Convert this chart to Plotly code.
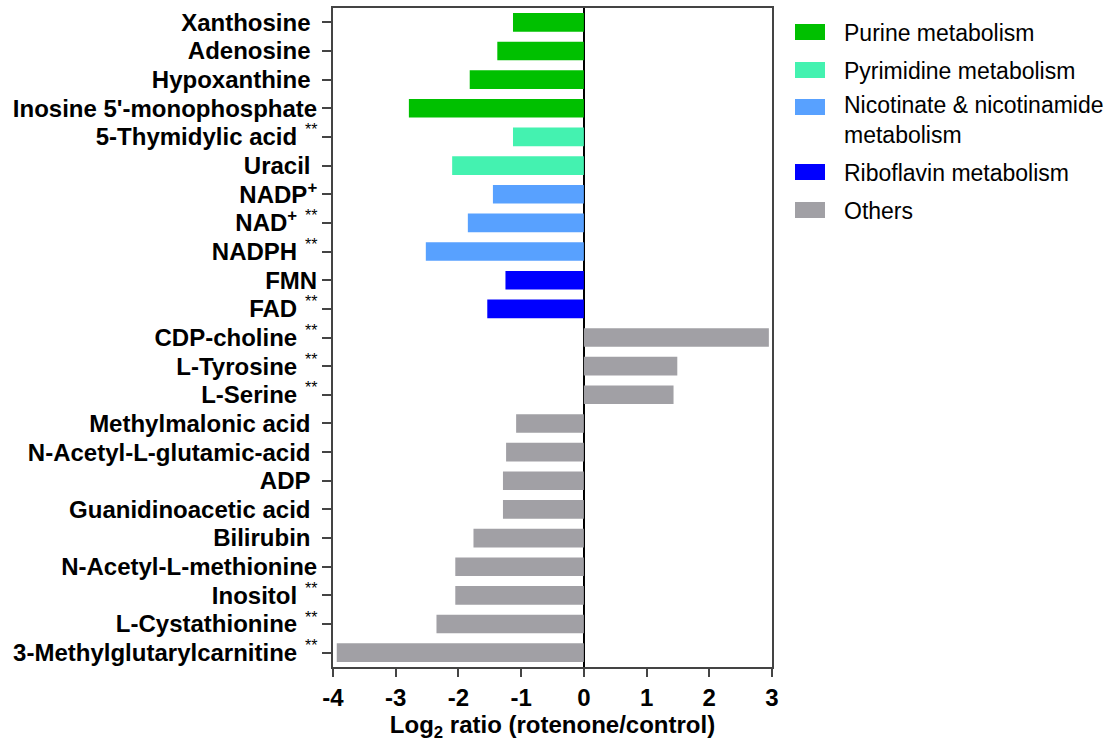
import plotly.graph_objects as go

# ---- data ----
metabolites = [
    "Xanthosine", "Adenosine", "Hypoxanthine", "Inosine 5'-monophosphate",
    "5-Thymidylic acid", "Uracil", "NADP+", "NAD+", "NADPH", "FMN", "FAD",
    "CDP-choline", "L-Tyrosine", "L-Serine", "Methylmalonic acid",
    "N-Acetyl-L-glutamic-acid", "ADP", "Guanidinoacetic acid", "Bilirubin",
    "N-Acetyl-L-methionine", "Inositol", "L-Cystathionine",
    "3-Methylglutarylcarnitine",
]
log2_ratio = [
    -1.13, -1.38, -1.82, -2.79,
    -1.13, -2.10, -1.45, -1.85, -2.52, -1.25, -1.54,
    2.95, 1.49, 1.43, -1.08,
    -1.24, -1.29, -1.29, -1.76,
    -2.05, -2.05, -2.35,
    -3.94,
]
pathway = [
    "Purine metabolism", "Purine metabolism", "Purine metabolism", "Purine metabolism",
    "Pyrimidine metabolism", "Pyrimidine metabolism",
    "Nicotinate & nicotinamide metabolism", "Nicotinate & nicotinamide metabolism",
    "Nicotinate & nicotinamide metabolism",
    "Riboflavin metabolism", "Riboflavin metabolism",
    "Others", "Others", "Others", "Others", "Others", "Others", "Others", "Others",
    "Others", "Others", "Others", "Others",
]
significant = [
    False, False, False, False,
    True, False, False, True, True, False, True,
    True, True, True, False,
    False, False, False, False,
    False, True, True,
    True,
]
label_html = [
    "Xanthosine", "Adenosine", "Hypoxanthine", "Inosine 5'-monophosphate",
    "5-Thymidylic acid", "Uracil", "NADP<sup>+</sup>", "NAD<sup>+</sup>", "NADPH",
    "FMN", "FAD", "CDP-choline", "L-Tyrosine", "L-Serine", "Methylmalonic acid",
    "N-Acetyl-L-glutamic-acid", "ADP", "Guanidinoacetic acid", "Bilirubin",
    "N-Acetyl-L-methionine", "Inositol", "L-Cystathionine",
    "3-Methylglutarylcarnitine",
]
# trailing spaces after label (as in the original figure)
label_pad = [1, 1, 1, 0, 3, 1, 0, 3, 3, 0, 3, 3, 3, 3, 1, 1, 1, 1, 1, 0, 3, 3, 3]
legend_names = [
    "Purine metabolism", "Pyrimidine metabolism",
    "Nicotinate & nicotinamide metabolism", "Riboflavin metabolism", "Others",
]
legend_text = [
    "Purine metabolism", "Pyrimidine metabolism",
    "Nicotinate & nicotinamide<br>metabolism", "Riboflavin metabolism", "Others",
]
x_ticks = [-4, -3, -2, -1, 0, 1, 2, 3]

# ---- styles ----
colors = {
    "Purine metabolism": "#00C000",
    "Pyrimidine metabolism": "#44F2B0",
    "Nicotinate & nicotinamide metabolism": "#58A1FF",
    "Riboflavin metabolism": "#0000FF",
    "Others": "#A1A0A5",
}
FONT = "Liberation Sans, Arial, sans-serif"

W, H = 1114, 742
ML, MR, MT, MB = 333, W - 772, 8, H - 667

fig = go.Figure()
for name in legend_names:
    ys = [m for m, p in zip(metabolites, pathway) if p == name]
    xs = [v for v, p in zip(log2_ratio, pathway) if p == name]
    fig.add_trace(go.Bar(
        x=xs, y=ys, orientation="h", name=name,
        marker=dict(color=colors[name], line=dict(width=0)),
        width=0.65, showlegend=False,
    ))

ticktext = [f"<b>{lab}</b>" + "\u00a0" * pad for lab, pad in zip(label_html, label_pad)]

fig.update_layout(
    width=W, height=H,
    margin=dict(l=ML, r=MR, t=MT, b=MB, autoexpand=False),
    paper_bgcolor="white", plot_bgcolor="white",
    font=dict(family=FONT, color="black"),
    bargap=0.35,
)
fig.update_xaxes(
    range=[-4, 3], tickvals=x_ticks, ticktext=[f"<b>{v}</b>" for v in x_ticks],
    ticks="outside", ticklen=8, tickwidth=2, tickcolor="#444",
    showline=True, linecolor="#444", linewidth=2, mirror=True,
    showgrid=False, zeroline=True, zerolinecolor="black", zerolinewidth=1.5,
    tickfont=dict(size=24, family=FONT),
    title=dict(text="<b>Log<sub>2</sub> ratio (rotenone/control)</b>",
               font=dict(size=24, family=FONT), standoff=8),
    automargin=False,
)
fig.update_yaxes(
    type="category", categoryorder="array", categoryarray=metabolites,
    range=[len(metabolites) - 0.5, -0.5],
    tickmode="array", tickvals=metabolites, ticktext=ticktext,
    ticks="outside", ticklen=9, tickwidth=2, tickcolor="#444",
    showline=True, linecolor="#444", linewidth=2, mirror=True,
    showgrid=False, zeroline=False,
    tickfont=dict(size=24, family=FONT),
    automargin=False,
)

plot_w = W - ML - MR
plot_h = H - MT - MB
def px_to_paper_x(px):
    return (px - ML) / plot_w
def px_to_paper_y(py):
    return (H - MB - py) / plot_h

# significance marks (raised, next to labels)
for m, sig in zip(metabolites, significant):
    if sig:
        fig.add_annotation(
            xref="paper", yref="y", x=px_to_paper_x(319), y=m,
            text="**", showarrow=False, xanchor="right", yanchor="middle",
            yshift=7, font=dict(size=16, family=FONT, color="black"),
        )

# ---- manual legend ----
swatch_y = [32, 70, 107, 172, 210]
text_y = [33, 71, 120, 173, 211]
for name, txt, sy, ty in zip(legend_names, legend_text, swatch_y, text_y):
    fig.add_shape(
        type="rect", xref="paper", yref="paper",
        x0=px_to_paper_x(795), x1=px_to_paper_x(825),
        y0=px_to_paper_y(sy + 8), y1=px_to_paper_y(sy - 8),
        fillcolor=colors[name], line=dict(width=0),
    )
    fig.add_annotation(
        xref="paper", yref="paper", x=px_to_paper_x(842), y=px_to_paper_y(ty),
        text=txt, showarrow=False, xanchor="left", yanchor="middle", align="left",
        font=dict(size=23, family=FONT, color="black"),
    )

fig.write_html("out.html")
